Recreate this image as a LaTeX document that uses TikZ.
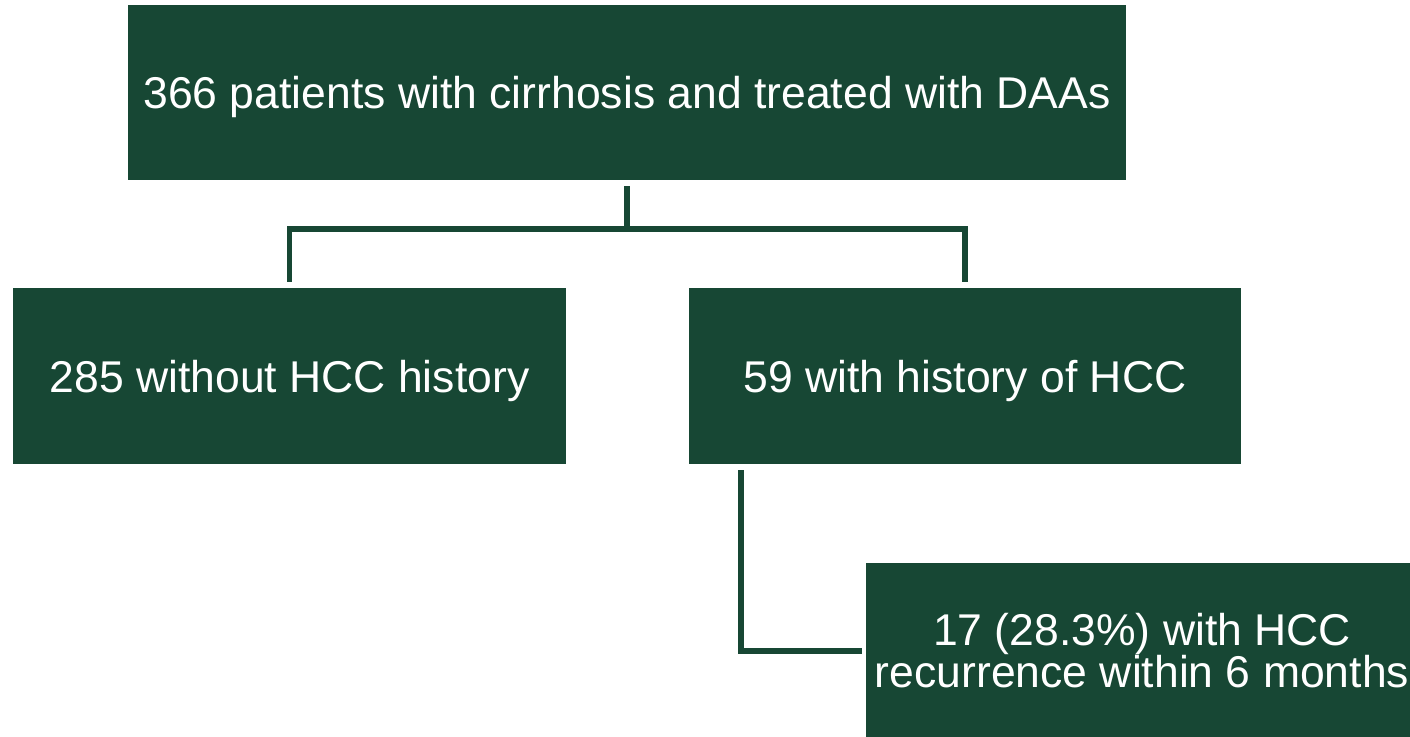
\documentclass[tikz,border=0pt]{standalone}
\usepackage{fontspec}
\setmainfont{Liberation Sans}
\definecolor{dkgreen}{HTML}{174734}
\begin{document}
\begin{tikzpicture}[x=1pt,y=-1pt,
  box/.style={rectangle, fill=dkgreen, text=white, inner sep=0pt,
    font=\fontsize{44.5}{42}\selectfont},
  onel/.style={box, text height=41pt, text depth=9pt},
  conn/.style={draw=dkgreen, line width=5.5pt}]
\useasboundingbox (0,0) rectangle (1410,736);
\node[onel, minimum width=998pt, minimum height=175pt] (top) at (627,92.5) {366 patients with cirrhosis and treated with DAAs};
\node[onel, minimum width=553pt, minimum height=176pt] (left) at (289.5,376) {285 without HCC history};
\node[onel, minimum width=552pt, minimum height=176pt] (right) at (965,376) {59 with history of HCC};
\node[box, align=center, minimum width=552pt, minimum height=176pt] (bottom) at (1142,651) {17 (28.3\%) with HCC\\recurrence within 6 months};
\draw[conn] ([yshift=-6pt]top.south) -- ++(0,43) coordinate (mid);
\draw[conn] ([yshift=6pt]left.north) |- (mid) -| ([yshift=6pt]right.north);
\draw[conn] ([xshift=52pt,yshift=-6pt]right.south west) |- ([xshift=-4pt]bottom.west);
\end{tikzpicture}
\end{document}
